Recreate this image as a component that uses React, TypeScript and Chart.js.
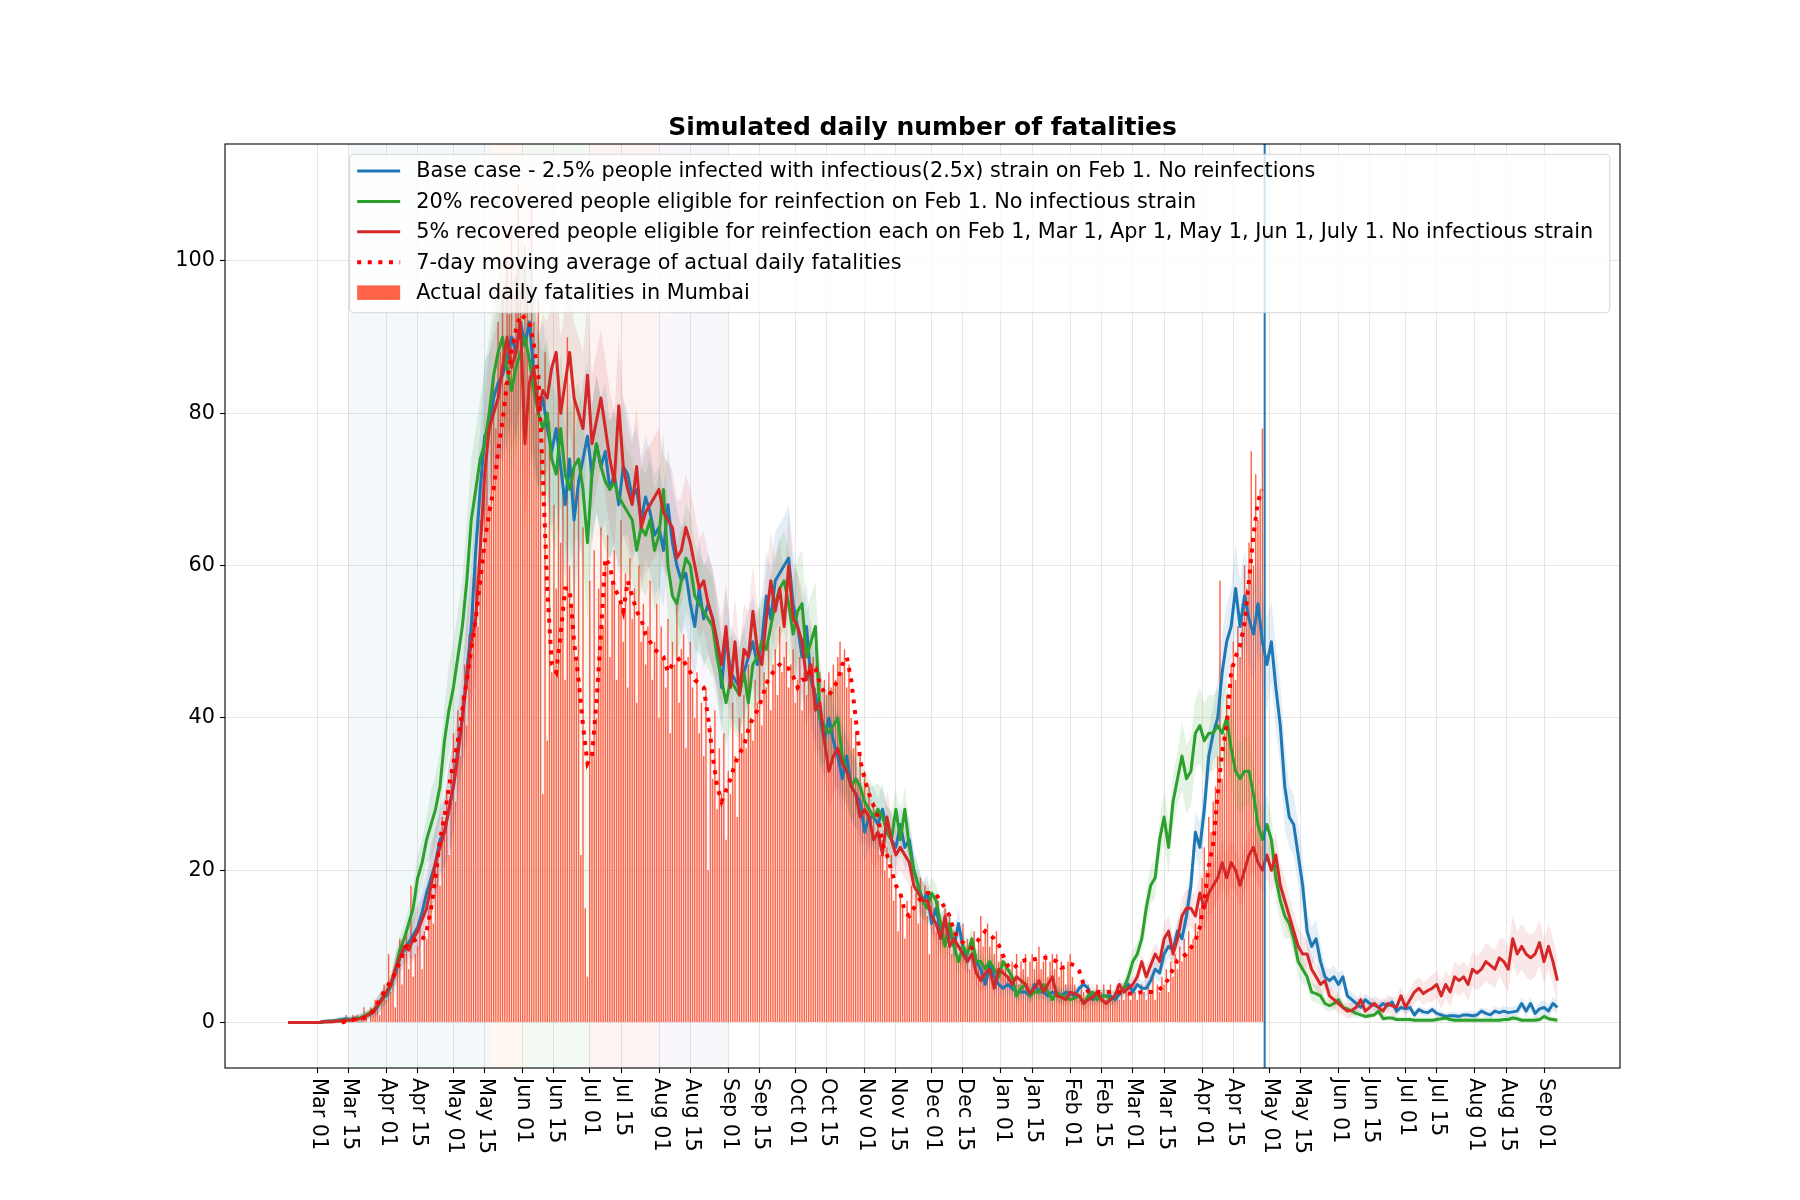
import React, { useEffect, useRef } from 'react';
import { Chart, registerables } from 'chart.js';

Chart.register(...registerables);

const TITLE = 'Simulated daily number of fatalities';
const ORIGIN_DATE = '2020-03-01';

// Simulated series: one value every 2 days starting 2020-02-17
const SIM_START = '2020-02-17';
const SIM_STEP_DAYS = 2;

const baseCase = [
  0, 0, 0, 0, 0, 0, 0, 0, 0.1, 0.2, 0.2, 0.3, 0.4,
  0.5, 0.4, 0.6, 0.5, 0.8, 1.0, 1.3, 2.0, 3.2, 3.5, 4.8, 6.5, 8.5, 9.5, 10.5, 11.5, 12.5, 14.5, 17, 19, 21, 24, 25, 28, 31, 36, 40, 46, 52, 62, 70, 77, 78, 82, 84,
  85, 87, 90, 88, 92, 89, 92, 85, 80, 82, 78, 75, 78, 73, 68, 74, 66, 71, 74, 77, 72, 76, 73, 75, 70, 72, 68, 73, 72, 69, 70, 66, 69, 67, 64, 65, 62, 68, 63, 60, 58, 59, 55, 52, 57, 53, 55, 53,
  50, 44, 51, 46, 45, 44, 46, 48, 50, 47, 50, 56, 53, 58, 59, 60, 61, 55, 52, 48, 52, 45, 43, 40, 37, 40, 37, 35, 32, 35, 31, 30, 29, 25, 27, 27, 26, 28, 25, 24, 23, 26, 23, 24, 20, 18, 16,
  17, 13, 15, 12, 13, 12, 10, 13, 10, 8, 9, 8, 7, 5, 7.5, 6, 5, 4.5, 5, 4.5, 4, 4, 4, 3.5, 5, 4, 4, 3.5, 4, 3.8, 3.5, 4, 3.8, 3.5, 4.5, 5, 4.5, 3, 3.5, 3.5, 3.5, 3.5, 3,
  3.7, 4.5, 5, 4, 5, 4.5, 4.5, 5.5, 7, 6.5, 9, 10, 9.5, 12, 11, 14, 18, 25, 23, 28, 35, 38, 40, 46, 50, 52, 57, 52, 56, 53, 51, 55, 50, 47, 50, 44, 39, 31, 27, 26, 22, 18, 12, 10, 11, 8, 6, 5.5,
  6, 5, 6, 3.5, 3, 2.5, 2, 3, 2.5, 2.3, 2, 2.5, 2.2, 2.7, 1.5, 2, 1.8, 2, 1, 1.7, 1.4, 1.3, 1.7, 1.2, 1, 0.8, 0.9, 0.9, 0.8, 1, 1, 0.9, 1, 1.5, 1.2, 1, 1.5, 1.3, 1.5, 1.3, 1.4, 1.5, 2.5, 1.5, 2.5, 1.2, 1.8, 2, 1.5, 2.5, 2,
];

const reinfection20 = [
  0, 0, 0, 0, 0, 0, 0, 0, 0.1, 0.1, 0.2, 0.2, 0.3,
  0.3, 0.4, 0.5, 0.6, 0.8, 1.2, 1.6, 2.2, 3, 3.8, 5, 7, 9.5, 11, 13, 15, 19, 21, 24, 26, 28, 31, 37, 41, 44, 48, 52, 58, 66, 70, 74, 76, 80, 85, 88,
  90, 86, 83, 86, 88, 90, 87, 83, 80, 78, 80, 74, 72, 78, 72, 70, 73, 74, 70, 63, 72, 76, 73, 71, 70, 71, 69, 68, 67, 66, 62, 65, 64, 66, 62, 64, 70, 60, 56, 55, 58, 61, 60, 56, 55, 54, 53, 52,
  48, 45, 42, 45, 44, 43, 46, 42, 47, 48, 50, 49, 52, 55, 57, 58, 55, 51, 54, 55, 48, 50, 52, 40, 39, 38, 39, 40, 35, 33, 31, 32, 31, 29, 28, 27, 28, 27, 25, 24, 28, 24, 28, 23, 20, 18, 16,
  15, 17, 16, 13, 10, 13, 10, 8, 10, 9, 11, 8, 8, 7, 8, 7, 6, 8, 7, 6, 3.5, 4.5, 5, 3.5, 4, 4, 5, 4, 3, 4, 3.5, 3.5, 3, 3.2, 3.5, 2.5, 3.5, 4, 3, 3.5, 3.5, 3, 3.5,
  4, 4.5, 6, 8, 9, 11, 15, 18, 19, 24, 27, 23, 29, 32, 35, 32, 33, 38, 39, 37, 38, 38, 39, 38, 40, 36, 33, 32, 33, 33, 30, 26, 24, 26, 24, 19, 16, 14, 13, 11, 8, 7, 6, 4, 3.8, 3.5, 2.5, 2.2,
  2.5, 3, 2, 1.8, 1.5, 1.2, 1, 0.8, 0.9, 1, 1.5, 0.5, 0.6, 0.6, 0.4, 0.4, 0.4, 0.4, 0.3, 0.3, 0.3, 0.3, 0.3, 0.4, 0.5, 0.6, 0.4, 0.3, 0.3, 0.3, 0.3, 0.3, 0.3, 0.3, 0.3, 0.3, 0.3, 0.3, 0.4, 0.4, 0.6, 0.5, 0.3, 0.3, 0.3, 0.3, 0.4, 0.8, 0.5, 0.4, 0.3,
];

const reinfection5 = [
  0, 0, 0, 0, 0, 0, 0, 0, 0.1, 0.1, 0.1, 0.2, 0.2,
  0.3, 0.3, 0.4, 0.5, 0.7, 1, 1.4, 2.2, 3, 4, 5, 7, 8.5, 10, 9.5, 11, 12, 13.5, 15, 18, 21, 23, 25, 28, 31, 35, 40, 45, 50, 53, 62, 72, 78, 80, 82,
  86, 90, 86, 88, 92, 76, 84, 86, 80, 83, 82, 86, 88, 80, 84, 88, 82, 80, 78, 85, 76, 79, 82, 78, 74, 71, 81, 73, 70, 68, 73, 65, 67, 68, 69, 70, 67, 66, 65, 61, 62, 65, 63, 60, 57, 58, 55, 53,
  50, 47, 52, 44, 50, 43, 49, 48, 54, 49, 47, 53, 58, 54, 57, 52, 60, 53, 52, 50, 45, 47, 41, 42, 37, 33, 35, 36, 34, 33, 31, 30, 27, 28, 27, 24, 25, 22, 27, 24, 22, 23, 22, 21, 18, 17, 16,
  16, 14, 13, 11, 14, 10, 11, 10, 9, 8, 9, 6.5, 5.5, 6.5, 7, 4.5, 7, 6.5, 6, 5, 6, 5.5, 5, 3.8, 4.5, 5.5, 4, 5, 6, 3.5, 3.3, 3, 4, 3.8, 3.5, 2.5, 3, 3.3, 4, 3, 2.5, 3, 3.5,
  5, 4, 4.5, 5, 6, 8, 6, 7.5, 9, 8, 11, 12, 9, 11, 14, 15, 15, 14, 17, 15, 17, 18, 19, 21, 19, 21, 20, 18, 20, 22, 23, 21, 20, 22, 20, 22, 18, 16, 14, 12, 10, 9, 9, 7, 6, 5, 5.5, 3.5,
  3, 2.5, 2, 1.5, 1.6, 2, 3, 1.5, 2, 2.5, 2, 1.5, 2.5, 2.2, 2, 3.5, 2, 3, 4, 4.5, 3.8, 4.2, 4.5, 5, 3.5, 5, 4, 6, 5.5, 6, 5, 7, 6.5, 7, 8, 7.5, 7, 8.5, 8, 7, 11, 9, 10, 9, 8.5, 9, 10.5, 8, 10, 8, 5.5,
];

// Half-width of the simulation spread, one value per 8-day block from 2020-02-17
const BAND_STEP_DAYS = 8;
const baseCaseSpread = [
  0.2, 0.2, 0.3, 0.4, 0.6, 1.2, 2, 3, 4.5, 6,
  8, 10, 11, 11, 10, 10, 10, 9, 9, 8,
  8, 7.5, 7, 6.5, 6, 6, 6, 6.5, 7, 6,
  5, 4.5, 4, 3.5, 3, 2.5, 2.2, 2, 1.6, 1.3,
  1.1, 1, 1, 1, 0.9, 0.9, 0.9, 1, 1.2, 1.6,
  2.5, 3.5, 5, 6, 6, 5.5, 4, 2.5, 1.5, 1,
  0.8, 0.7, 0.6, 0.5, 0.5, 0.5, 0.5, 0.6, 0.7, 0.8,
  0.9, 0.9,
];
const reinfection20Spread = [
  0.2, 0.2, 0.3, 0.4, 0.6, 1.2, 2, 3, 4.5, 6,
  8, 10, 11, 11, 10, 10, 10, 9, 9, 8,
  8, 7.5, 7, 6.5, 6, 6, 6, 6.5, 7, 6,
  5, 4.5, 4, 3.5, 3, 2.5, 2.2, 2, 1.6, 1.3,
  1.1, 1, 1, 1, 0.9, 0.9, 0.9, 1.5, 2.5, 3.5,
  4.5, 5, 5, 4.5, 4, 3, 2, 1.2, 0.8, 0.5,
  0.4, 0.4, 0.4, 0.4, 0.4, 0.4, 0.4, 0.4, 0.4, 0.4,
  0.4, 0.4,
];
const reinfection5Spread = [
  0.2, 0.2, 0.3, 0.4, 0.6, 1.2, 2, 3, 4.5, 6,
  8, 10, 11, 11, 10, 10, 10, 9, 9, 8,
  8, 7.5, 7, 6.5, 6, 6, 6, 6.5, 7, 6,
  5, 4.5, 4, 3.5, 3, 2.5, 2.2, 2, 1.6, 1.3,
  1.1, 1, 1, 1, 0.9, 0.9, 0.9, 1, 1.5, 2,
  2.5, 3, 3, 3, 3, 3, 2.5, 1.8, 1.3, 1,
  1, 1.2, 1.3, 1.5, 1.8, 2, 2.3, 2.5, 3, 3,
  3, 3,
];

// 7-day moving average, every 2 days from 2020-03-12
const MA_START = '2020-03-12';
const MA_STEP_DAYS = 2;
const movingAverage = [
  0, 0.2, 0.3, 0.4, 0.5, 0.6, 0.8, 1.5, 2.5, 3.5, 4.5, 5.5, 6.5, 8, 9.5, 10.5, 10.7, 11, 10.8, 12, 15, 19, 24, 27, 31, 34, 37, 41, 45, 49, 53, 58, 63, 67, 70, 75,
  79, 84, 88, 91, 93, 92.5, 92, 89, 85, 72, 57, 47, 46, 51, 57, 57, 50, 45, 39, 34, 35, 42, 51, 61, 60, 57, 56, 54, 58, 56, 54, 53, 51, 50, 49, 48.5, 48, 46, 47, 47.5, 48, 47, 46, 45, 44.5, 44, 40, 35,
  31, 29, 30.5, 32, 34, 35.3, 36.3, 38.5, 40, 41, 42.5, 44.5, 45.5, 46.5, 47, 46.5, 46.5, 45.5, 44, 45, 45, 46.5, 46.5, 44.5, 43.3, 43, 43.8, 45, 47, 48, 45, 40, 34.5, 32, 30, 28.5, 27, 23.5, 22, 20, 18, 17, 14.5, 14, 15, 16, 16.5,
  17, 17, 16.8, 16, 15, 14, 12, 11, 10.5, 10, 9.8, 10.5, 11.3, 12, 11.5, 11, 10.2, 8.8, 7.5, 7, 7.5, 8, 8.2, 8.2, 8.3, 8.4, 8.5, 8.5, 8.3, 8, 7.2, 7.3, 7.7, 7.5, 6.8, 5, 4.1, 4, 4, 4, 4, 4, 4,
  4, 3.9, 3.8, 3.8, 3.9, 4, 4, 4, 4, 4.4, 4.8, 5.8, 7, 8.2, 8.6, 9, 9.8, 10.7, 12.5, 16, 20.5, 23.5, 30, 35.5, 39, 46, 48, 49.5, 52.5, 58, 64, 68.5, 70,
];

// Actual daily fatalities, one value per day from 2020-03-11
const BARS_START = '2020-03-11';
const actualDaily = [
  0, 0, 0, 1, 0, 0, 1, 0, 1, 0,
  1, 2, 1, 0, 2, 1, 3, 2, 1, 4,
  5, 3, 9, 4, 6, 2, 8, 11, 5, 9,
  12, 7, 18, 6, 9, 10, 13, 7, 12, 11,
  15, 17, 13, 20, 22, 18, 27, 25, 30, 22,
  33, 38, 29, 41, 35, 43, 47, 39, 51, 48,
  55, 60, 52, 66, 62, 70, 75, 68, 82, 85,
  78, 92, 88, 96, 84, 100, 93, 105, 90, 98,
  110, 95, 88, 102, 97, 85, 108, 92, 80, 95,
  75, 30, 88, 37, 79, 46, 68, 57, 85, 63,
  72, 45, 90, 60, 55, 82, 48, 70, 22, 65,
  15, 6, 58, 35, 62, 40, 57, 65, 52, 60,
  64, 48, 58, 62, 45, 55, 66, 50, 59, 44,
  61, 53, 57, 42, 60, 50, 55, 47, 52, 58,
  45, 50, 55, 40, 52, 48, 44, 53, 38, 50,
  47, 55, 42, 49, 51, 36, 48, 50, 44, 40,
  46, 38, 42, 35, 44, 20, 39, 32, 41, 28,
  36, 30, 38, 24, 33, 30, 42, 35, 27, 40,
  38, 43, 36, 47, 40, 37, 45, 42, 48, 39,
  46, 44, 50, 41, 47, 49, 43, 52, 46, 48,
  50, 44, 47, 49, 42, 45, 48, 41, 46, 43,
  47, 45, 48, 44, 42, 46, 40, 45, 43, 46,
  44, 47, 45, 48, 50, 46, 49, 44, 47, 40,
  36, 38, 32, 35, 30, 33, 28, 31, 27, 29,
  25, 28, 22, 24, 20, 23, 19, 22, 16, 18,
  12, 17, 15, 11, 16, 14, 18, 15, 17, 13,
  19, 16, 18, 14, 9, 17, 15, 12, 16, 13,
  11, 15, 10, 14, 9, 12, 11, 8, 10, 13,
  9, 11, 7, 10, 12, 9, 11, 14, 10, 12,
  13, 10, 11, 9, 12, 8, 9, 7, 8, 6,
  7, 8, 6, 9, 5, 8, 7, 9, 6, 8,
  9, 7, 8, 10, 7, 8, 9, 6, 8, 9,
  7, 9, 6, 8, 7, 5, 8, 9, 6, 5,
  4, 3, 5, 4, 3, 5, 4, 3, 4, 5,
  3, 4, 5, 3, 4, 5, 3, 4, 5, 3,
  4, 3, 5, 4, 3, 5, 4, 3, 4, 5,
  4, 3, 5, 4, 6, 3, 5, 4, 6, 5,
  7, 4, 8, 6, 9, 7, 10, 8, 11, 9,
  12, 10, 11, 13, 12, 15, 19, 23, 20, 27,
  25, 29, 31, 35, 58, 32, 38, 43, 40, 47,
  50, 45, 52, 48, 55, 60, 57, 63, 75, 60,
  72, 66, 70, 78,
];

const CUTOFF_DATE = '2021-04-29';

const phaseStarts = ['2020-03-15', '2020-05-18', '2020-06-01', '2020-07-01', '2020-08-01'];
const phaseEnds = ['2020-05-18', '2020-06-01', '2020-07-01', '2020-08-01', '2020-09-01'];

const tickDates = [
  '2020-03-01', '2020-03-15', '2020-04-01', '2020-04-15', '2020-05-01', '2020-05-15',
  '2020-06-01', '2020-06-15', '2020-07-01', '2020-07-15', '2020-08-01', '2020-08-15',
  '2020-09-01', '2020-09-15', '2020-10-01', '2020-10-15', '2020-11-01', '2020-11-15',
  '2020-12-01', '2020-12-15', '2021-01-01', '2021-01-15', '2021-02-01', '2021-02-15',
  '2021-03-01', '2021-03-15', '2021-04-01', '2021-04-15', '2021-05-01', '2021-05-15',
  '2021-06-01', '2021-06-15', '2021-07-01', '2021-07-15', '2021-08-01', '2021-08-15',
  '2021-09-01',
];
const MONTH_ABBR = ['Jan', 'Feb', 'Mar', 'Apr', 'May', 'Jun', 'Jul', 'Aug', 'Sep', 'Oct', 'Nov', 'Dec'];
const yTickValues = [0, 20, 40, 60, 80, 100];

const seriesLabels = [
  'Base case - 2.5% people infected with infectious(2.5x) strain on Feb 1. No reinfections',
  '20% recovered people eligible for reinfection on Feb 1. No infectious strain',
  '5% recovered people eligible for reinfection each on Feb 1, Mar 1, Apr 1, May 1, Jun 1, July 1. No infectious strain',
];
const maLabel = '7-day moving average of actual daily fatalities';
const barLabel = 'Actual daily fatalities in Mumbai';

// ---- styling / layout ----
const FONT = '"DejaVu Sans", "Liberation Sans", sans-serif';
const C_BLUE = '#1f77b4';
const C_GREEN = '#2ca02c';
const C_RED = '#d62728';
const C_MA = '#ff0000';
const C_BAR = '#ff6347';
const PHASE_COLORS = [
  'rgba(31,119,180,0.055)',
  'rgba(255,127,14,0.055)',
  'rgba(44,160,44,0.055)',
  'rgba(214,39,40,0.055)',
  'rgba(148,103,189,0.055)',
];
const GRID = 'rgba(176,176,176,0.3)';
const X_MIN = -41.2;
const X_MAX = 583;
const Y_MIN = -5.97;
const Y_MAX = 115.36;
const LINE_W = 3;

const DAY_MS = 86400000;
const dayOf = (s: string) => (Date.parse(s + 'T00:00:00Z') - Date.parse(ORIGIN_DATE + 'T00:00:00Z')) / DAY_MS;
const fmtTick = (s: string) => {
  const d = new Date(s + 'T00:00:00Z');
  return MONTH_ABBR[d.getUTCMonth()] + ' ' + String(d.getUTCDate()).padStart(2, '0');
};

export default function App() {
  const ref = useRef<HTMLCanvasElement>(null);

  useEffect(() => {
    const canvas = ref.current;
    if (!canvas) return;

    const simStart = dayOf(SIM_START);
    const simPts = (vals: number[]) => vals.map((v, i) => ({ x: simStart + i * SIM_STEP_DAYS, y: v }));
    const bandPts = (vals: number[], spread: number[], sign: number) =>
      vals.map((v, i) => {
        const d = simStart + i * SIM_STEP_DAYS;
        const k = Math.min(spread.length - 1, Math.floor((d - simStart) / BAND_STEP_DAYS));
        return { x: d, y: v + sign * spread[k] };
      });
    const maStart = dayOf(MA_START);
    const barStart = dayOf(BARS_START);
    const cutoff = dayOf(CUTOFF_DATE);
    const tickDays = tickDates.map(dayOf);
    const tickLabels = tickDates.map(fmtTick);

    const band = (vals: number[], spread: number[], fillColor: string, order: number) => [
      {
        type: 'line', label: '_band_hi', data: bandPts(vals, spread, 1), borderWidth: 0, borderColor: 'transparent',
        backgroundColor: fillColor, pointRadius: 0, tension: 0, fill: '+1', order,
      },
      {
        type: 'line', label: '_band_lo', data: bandPts(vals, spread, -1), borderWidth: 0, borderColor: 'transparent',
        backgroundColor: fillColor, pointRadius: 0, tension: 0, fill: false, order,
      },
    ];
    const line = (vals: number[], color: string, label: string, order: number) => ({
      type: 'line', label, data: simPts(vals), borderColor: color, borderWidth: LINE_W, pointRadius: 0,
      tension: 0, fill: false, order, borderJoinStyle: 'round', borderCapStyle: 'butt',
    });

    const datasets: any[] = [
      {
        type: 'bar', label: barLabel, data: actualDaily.map((v, i) => ({ x: barStart + i, y: v })),
        backgroundColor: C_BAR, borderWidth: 0, barPercentage: 1, categoryPercentage: 0.64, inflateAmount: 0, order: 30,
      },
      ...band(baseCase, baseCaseSpread, 'rgba(31,119,180,0.12)', 20),
      ...band(reinfection20, reinfection20Spread, 'rgba(44,160,44,0.12)', 19),
      ...band(reinfection5, reinfection5Spread, 'rgba(214,39,40,0.11)', 18),
      line(baseCase, C_BLUE, seriesLabels[0], 7),
      line(reinfection20, C_GREEN, seriesLabels[1], 6),
      line(reinfection5, C_RED, seriesLabels[2], 5),
      {
        type: 'line', label: maLabel, data: movingAverage.map((v, i) => ({ x: maStart + i * MA_STEP_DAYS, y: v })),
        borderColor: C_MA, borderWidth: 4, borderDash: [4, 6.6], borderCapStyle: 'butt', pointRadius: 0, tension: 0,
        fill: false, order: 3,
      },
      {
        type: 'line', label: '_cutoff', data: [{ x: cutoff, y: Y_MIN }, { x: cutoff, y: Y_MAX }],
        borderColor: C_BLUE, borderWidth: 2, pointRadius: 0, fill: false, order: 2,
      },
    ];

    const bgPlugin = {
      id: 'bg',
      beforeDraw(chart: any) {
        const ctx = chart.ctx;
        ctx.save();
        ctx.fillStyle = '#ffffff';
        ctx.fillRect(0, 0, chart.width, chart.height);
        ctx.restore();
      },
    };

    const spansPlugin = {
      id: 'spans',
      beforeDatasetsDraw(chart: any) {
        const ctx = chart.ctx;
        const ca = chart.chartArea;
        const xs = chart.scales.x;
        ctx.save();
        phaseStarts.forEach((s, i) => {
          const x0 = xs.getPixelForValue(dayOf(s));
          const x1 = xs.getPixelForValue(dayOf(phaseEnds[i]));
          ctx.fillStyle = PHASE_COLORS[i % PHASE_COLORS.length];
          ctx.fillRect(x0, ca.top, x1 - x0, ca.bottom - ca.top);
        });
        ctx.restore();
      },
    };

    const framePlugin = {
      id: 'frame',
      afterDatasetsDraw(chart: any) {
        const ctx = chart.ctx;
        const ca = chart.chartArea;
        ctx.save();
        ctx.strokeStyle = '#000';
        ctx.lineWidth = 1.1;
        ctx.strokeRect(ca.left, ca.top, ca.right - ca.left, ca.bottom - ca.top);
        ctx.restore();
      },
    };

    const xLabelsPlugin = {
      id: 'xlabels',
      afterDraw(chart: any) {
        const ctx = chart.ctx;
        const ca = chart.chartArea;
        const xs = chart.scales.x;
        ctx.save();
        ctx.font = '20.8px ' + FONT;
        ctx.fillStyle = '#000';
        ctx.textAlign = 'left';
        ctx.textBaseline = 'middle';
        tickDays.forEach((d, i) => {
          const x = xs.getPixelForValue(d);
          ctx.save();
          ctx.translate(x + 1, ca.bottom + 10);
          ctx.rotate(Math.PI / 2);
          ctx.fillText(tickLabels[i], 0, 0);
          ctx.restore();
        });
        ctx.restore();
      },
    };

    const legendPlugin = {
      id: 'customLegend',
      afterDraw(chart: any) {
        const ctx = chart.ctx;
        const ca = chart.chartArea;
        const items = [
          { kind: 'line', color: C_BLUE, text: seriesLabels[0] },
          { kind: 'line', color: C_GREEN, text: seriesLabels[1] },
          { kind: 'line', color: C_RED, text: seriesLabels[2] },
          { kind: 'dots', color: C_MA, text: maLabel },
          { kind: 'patch', color: C_BAR, text: barLabel },
        ];
        ctx.save();
        ctx.font = '20.8px ' + FONT;
        const maxW = Math.max(...items.map((it) => ctx.measureText(it.text).width));
        const right = ca.right - 10.2;
        const top = ca.top + 10.3;
        const left = right - 16.7 - maxW - 66.6;
        const h = 158.4;
        const r = 4.2;
        ctx.beginPath();
        ctx.moveTo(left + r, top);
        ctx.lineTo(right - r, top);
        ctx.arcTo(right, top, right, top + r, r);
        ctx.lineTo(right, top + h - r);
        ctx.arcTo(right, top + h, right - r, top + h, r);
        ctx.lineTo(left + r, top + h);
        ctx.arcTo(left, top + h, left, top + h - r, r);
        ctx.lineTo(left, top + r);
        ctx.arcTo(left, top, left + r, top, r);
        ctx.closePath();
        ctx.fillStyle = 'rgba(255,255,255,0.8)';
        ctx.fill();
        ctx.strokeStyle = 'rgba(204,204,204,0.8)';
        ctx.lineWidth = 1;
        ctx.stroke();

        items.forEach((it, i) => {
          const y = top + 16.7 + i * 30.4;
          const hx0 = left + 7.5;
          const hx1 = left + 50.5;
          if (it.kind === 'line') {
            ctx.setLineDash([]);
            ctx.strokeStyle = it.color;
            ctx.lineWidth = LINE_W;
            ctx.beginPath();
            ctx.moveTo(hx0, y);
            ctx.lineTo(hx1, y);
            ctx.stroke();
          } else if (it.kind === 'dots') {
            ctx.setLineDash([4, 6.6]);
            ctx.lineCap = 'butt';
            ctx.strokeStyle = it.color;
            ctx.lineWidth = 4;
            ctx.beginPath();
            ctx.moveTo(hx0, y);
            ctx.lineTo(hx1, y);
            ctx.stroke();
            ctx.setLineDash([]);
          } else {
            ctx.fillStyle = it.color;
            ctx.fillRect(hx0, y - 7.2, hx1 - hx0, 14.5);
          }
          ctx.fillStyle = '#000';
          ctx.textAlign = 'left';
          ctx.textBaseline = 'middle';
          ctx.fillText(it.text, left + 66.6, y + 1);
        });
        ctx.restore();
      },
    };

    const chart = new Chart(canvas, {
      type: 'line',
      data: { datasets },
      options: {
        responsive: false,
        animation: false,
        devicePixelRatio: 1,
        events: [],
        layout: { padding: { top: 113, left: 0, right: 180, bottom: 0 } },
        plugins: {
          legend: { display: false },
          tooltip: { enabled: false },
          title: {
            display: true,
            text: TITLE,
            color: '#000',
            fullSize: false,
            font: { size: 25, weight: 'bold', family: FONT, lineHeight: 1.2 },
            padding: { top: 0, bottom: 1 },
          },
        },
        scales: {
          x: {
            type: 'linear',
            min: X_MIN,
            max: X_MAX,
            offset: false,
            afterBuildTicks: (s: any) => {
              s.ticks = tickDays.map((v) => ({ value: v }));
            },
            afterFit: (s: any) => {
              s.height = 132;
            },
            ticks: { display: false, autoSkip: false },
            grid: { offset: false, color: GRID, lineWidth: 1, tickLength: 5, tickColor: '#000', tickWidth: 1.1 },
            border: { display: false },
          },
          y: {
            type: 'linear',
            min: Y_MIN,
            max: Y_MAX,
            afterBuildTicks: (s: any) => {
              s.ticks = yTickValues.map((v) => ({ value: v }));
            },
            afterFit: (s: any) => {
              s.width = 225;
            },
            ticks: {
              color: '#000',
              font: { size: 20.8, family: FONT },
              padding: 5,
              callback: (v: any) => String(v),
            },
            grid: { color: GRID, lineWidth: 1, tickLength: 5, tickColor: '#000', tickWidth: 1.1 },
            border: { display: false },
          },
        },
      } as any,
      plugins: [bgPlugin, spansPlugin, framePlugin, xLabelsPlugin, legendPlugin],
    } as any);

    return () => chart.destroy();
  }, []);

  return (
    <div style={{ position: 'absolute', left: 0, top: 0, width: 1800, height: 1200, background: '#fff' }}>
      <canvas ref={ref} width={1800} height={1200} style={{ display: 'block', width: 1800, height: 1200 }} />
    </div>
  );
}
